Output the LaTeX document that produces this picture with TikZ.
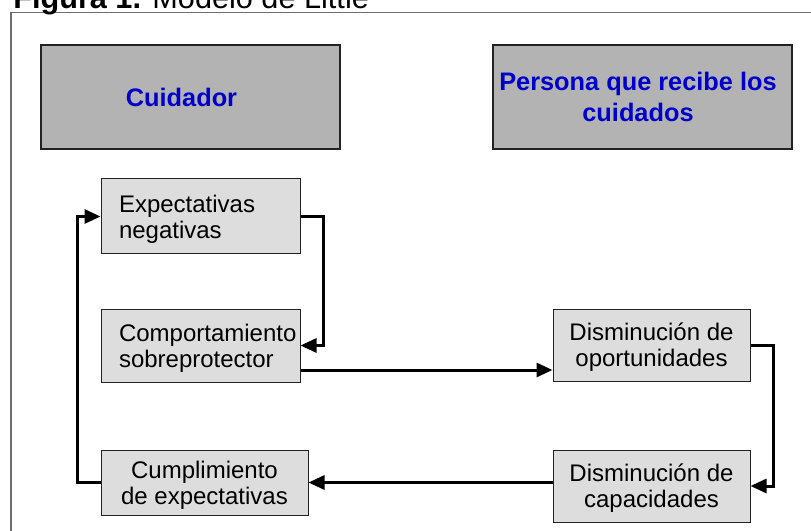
\documentclass[tikz,border=0pt]{standalone}
\usepackage{fontspec}
\setmainfont{Liberation Sans}
\usetikzlibrary{arrows.meta,calc}
\newdimen\px \px=0.75pt
\definecolor{bigfill}{HTML}{B3B3B3}
\definecolor{smallfill}{HTML}{DDDDDD}
\definecolor{headblue}{HTML}{0000CC}
\definecolor{framegray}{HTML}{6E6E6E}
\definecolor{edgegray}{HTML}{222222}
\begin{document}
\begin{tikzpicture}[x=\px,y=-\px,
  frameline/.style={draw=framegray, line width=1.1pt},
  bigbox/.style={draw=edgegray, line width=0.8pt, fill=bigfill,
    minimum width=299\px, minimum height=104\px, inner sep=0pt,
    font=\fontsize{19}{23.5}\selectfont\bfseries, text=headblue, align=center},
  smallbox/.style={draw=edgegray, line width=0.75pt, fill=smallfill,
    inner ysep=0pt, font=\fontsize{18}{19.5}\selectfont},
  leftbox/.style={smallbox, text width=163\px, inner xsep=18\px, align=left,
    text depth=26\px},
  centerbox/.style={smallbox, inner xsep=0pt, align=center, text depth=0pt},
  arr/.style={line width=2.25pt, line join=miter,
    -{Triangle[length=12pt,width=10.5pt]}}
]
\useasboundingbox (0,0) rectangle (811,531);
\draw[frameline] (830,12.5) -- (11,12.5) -- (11,550);
\node[anchor=base west, inner sep=0pt, font=\fontsize{23}{27}\selectfont] (title)
  at (13,8.5) {\textbf{Figura 1.} Modelo de Little};

\node[bigbox] (cuid) at (190.5,97) {Cuidador\hspace*{18\px}};
\node[bigbox, text depth=-6\px] (pers) at (642.5,97) {Persona que recibe los\hspace*{9\px}\\cuidados\hspace*{9\px}};

\node[leftbox, minimum height=75\px] (exp) at (200.5,216.5) {Expectativas\\negativas};
\node[leftbox, minimum height=73\px] (comp) at (200.5,345.5) {Comportamiento\\sobreprotector};
\node[centerbox, minimum width=197\px, minimum height=72\px] (opor) at (651.5,345) {Disminución de\\oportunidades};
\node[centerbox, minimum width=197\px, minimum height=72\px] (capa) at (651.5,486) {Disminución de\\capacidades};
\node[centerbox, minimum width=207\px, minimum height=65\px] (cump) at (204.5,482.5) {Cumplimiento\\de expectativas};

\draw[arr] (exp.east) -- ++(23,0) |- (comp.east);
\coordinate (c2) at ([yshift=-24.5\px]comp.east);
\draw[arr] (c2) -- (c2 -| opor.west);
\draw[arr] (opor.east) -- ++(23,0) |- (capa.east);
\draw[arr] (capa.west |- cump.east) -- (cump.east);
\draw[arr] (cump.west) -- ++(-23,0) |- (exp.west);
\end{tikzpicture}
\end{document}
